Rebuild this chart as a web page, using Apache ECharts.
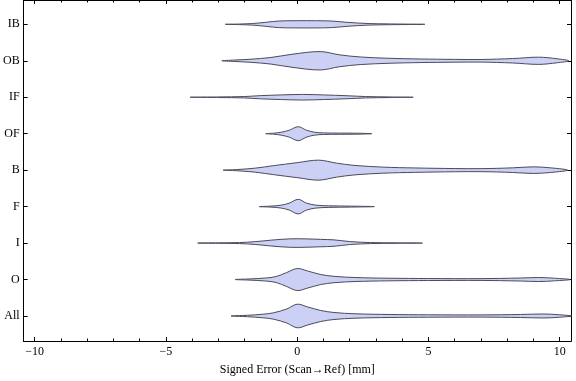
<!DOCTYPE html>
<html>
<head>
<meta charset="utf-8">
<script src="https://cdn.jsdelivr.net/npm/echarts@6/dist/echarts.min.js"></script>
<style>
html,body{margin:0;padding:0;background:#fff;}
#chart{width:576px;height:381px;}
</style>
</head>
<body>
<div id="chart"></div>
<script>
// Categories from bottom (index 0) to top
const categories = ['All', 'O', 'I', 'F', 'B', 'OF', 'IF', 'OB', 'IB'];
const xTickLabels = [-10, -5, 0, 5, 10];

// Violin profiles: [signed error (mm), relative density]
const violinAll = [[-2.52,0],[-1.9,0.7],[-1.3,1.8],[-0.9,3.2],[-0.4,7],[0,11.8],[0.4,9],[0.9,5.5],[1.4,3.5],[2.2,2.2],[3.5,1.5],[5,1.2],[7,1.1],[8.5,1.5],[9.4,2],[10,1.2],[10.45,0]];
const violinO   = [[-2.36,0],[-1.8,0.6],[-1.2,1.5],[-0.8,3],[-0.4,7],[0,11],[0.4,8.5],[0.9,5],[1.4,3.2],[2.2,2],[3.5,1.3],[5,1],[7,0.9],[8.5,1.5],[9.2,2],[9.8,1.3],[10.4,0]];
const violinI   = [[-3.79,0],[-3,0.2],[-2.2,0.5],[-1.6,1.4],[-1.0,2.9],[-0.3,4.2],[0.3,4.2],[0.9,3.7],[1.4,3.2],[2.0,1.5],[2.8,0.5],[3.8,0.2],[4.77,0]];
const violinF   = [[-1.45,0],[-1.0,0.5],[-0.6,1.5],[-0.3,3.5],[0.04,7.3],[0.35,3.5],[0.7,1.5],[1.2,0.8],[2.0,0.5],[2.94,0]];
const violinB   = [[-2.82,0],[-2.3,0.6],[-1.6,2],[-0.9,4.5],[0,7.5],[0.82,10],[1.5,7],[2.2,4.7],[3.3,3],[4.5,2.2],[6,1.6],[7,1.5],[8.2,2.3],[9.0,3.3],[9.7,2.2],[10.3,0]];
const violinOF  = [[-1.2,0],[-0.9,0.5],[-0.6,1.5],[-0.3,3.5],[0.04,7],[0.35,3.5],[0.65,1.5],[1.0,0.8],[1.6,0.6],[2.2,0.5],[2.84,0]];
const violinIF  = [[-4.08,0],[-3,0.3],[-2,0.7],[-1.4,1.6],[-0.6,2.3],[0.2,2.8],[1.0,2.3],[1.9,1.5],[2.6,0.7],[3.5,0.3],[4.42,0]];
const violinOB  = [[-2.87,0],[-2.4,0.7],[-1.8,1.5],[-1.0,3.3],[-0.2,6.5],[0.88,9.2],[1.6,6],[2.4,3.8],[3.5,2.5],[4.7,1.8],[6,1.4],[7.0,1.3],[8.2,2.2],[9.2,3.6],[9.9,2],[10.35,0]];
const violinIB  = [[-2.74,0],[-2.2,0.3],[-1.7,0.8],[-1.2,2],[-0.7,3.3],[0,3.6],[0.7,3.6],[1.3,3.3],[1.9,2],[2.7,0.8],[3.5,0.4],[4.86,0]];

const profiles = [violinAll, violinO, violinI, violinF, violinB, violinOF, violinIF, violinOB, violinIB];

// style constants
const DENSITY_SCALE = 1 / 36.46;
const FILL = 'rgb(203,208,244)';
const STROKE = 'rgb(75,75,90)';
const FONT = 'Liberation Serif';

const chart = echarts.init(document.getElementById('chart'));
const xMin = -10.42, xMax = 10.43, yMin = -0.686, yMax = 8.667;
const allInts = [];
for (let v = -10; v <= 10; v++) allInts.push(v);

function xAxisBase(pos, opts) {
  return Object.assign({
    type: 'value', min: xMin, max: xMax, position: pos, gridIndex: 0,
    axisLine: { show: true, onZero: false, lineStyle: { color: '#000', width: 1 } },
    splitLine: { show: false },
    axisLabel: { show: false },
    axisTick: { show: false }
  }, opts);
}
function fmtNum(v) { return v < 0 ? '\u2212' + Math.abs(v) : String(v); }

const option = {
  animation: false,
  backgroundColor: '#fff',
  grid: { left: 21, right: 5, top: 0, bottom: 40, containLabel: false },
  xAxis: [
    xAxisBase('bottom', {
      name: 'Signed Error (Scan\u2192Ref) [mm]', nameLocation: 'middle', nameGap: 23,
      nameTextStyle: { fontFamily: FONT, fontSize: 12, color: '#000' },
      axisLabel: { show: true, customValues: xTickLabels, formatter: fmtNum, fontFamily: FONT, fontSize: 12, color: '#000', margin: 5 },
      axisTick: { show: true, inside: true, length: 4, customValues: xTickLabels, lineStyle: { color: '#000' } }
    }),
    xAxisBase('top', {
      axisTick: { show: true, inside: true, length: 4, customValues: xTickLabels, lineStyle: { color: '#000' } }
    }),
    xAxisBase('bottom', {
      axisTick: { show: true, inside: true, length: 2.5, customValues: allInts, lineStyle: { color: '#000' } }
    }),
    xAxisBase('top', {
      axisTick: { show: true, inside: true, length: 2.5, customValues: allInts, lineStyle: { color: '#000' } }
    })
  ],
  yAxis: [
    {
      type: 'value', min: yMin, max: yMax, position: 'left',
      axisLine: { show: true, onZero: false, lineStyle: { color: '#000', width: 1 } },
      splitLine: { show: false },
      axisLabel: { show: true, customValues: categories.map((c, i) => i), formatter: v => categories[Math.round(v)], fontFamily: FONT, fontSize: 12, color: '#000', margin: 4 },
      axisTick: { show: true, inside: true, length: 4, customValues: categories.map((c, i) => i), lineStyle: { color: '#000' } }
    },
    {
      type: 'value', min: yMin, max: yMax, position: 'right',
      axisLine: { show: true, onZero: false, lineStyle: { color: '#000', width: 1 } },
      splitLine: { show: false },
      axisLabel: { show: false },
      axisTick: { show: true, inside: true, length: 4, customValues: categories.map((c, i) => i), lineStyle: { color: '#000' } }
    }
  ],
  series: [{
    type: 'custom',
    xAxisIndex: 0, yAxisIndex: 0,
    clip: true,
    data: categories.map((c, i) => [i]),
    renderItem: function (params, api) {
      const i = api.value(0);
      const prof = profiles[i];
      const pts = [];
      for (let k = 0; k < prof.length; k++) pts.push(api.coord([prof[k][0], i + prof[k][1] * DENSITY_SCALE]));
      for (let k = prof.length - 2; k >= 1; k--) pts.push(api.coord([prof[k][0], i - prof[k][1] * DENSITY_SCALE]));
      return {
        type: 'polygon',
        shape: { points: pts, smooth: 0.35 },
        style: { fill: FILL, stroke: STROKE, lineWidth: 1 }
      };
    }
  }]
};
chart.setOption(option);
</script>
</body>
</html>
